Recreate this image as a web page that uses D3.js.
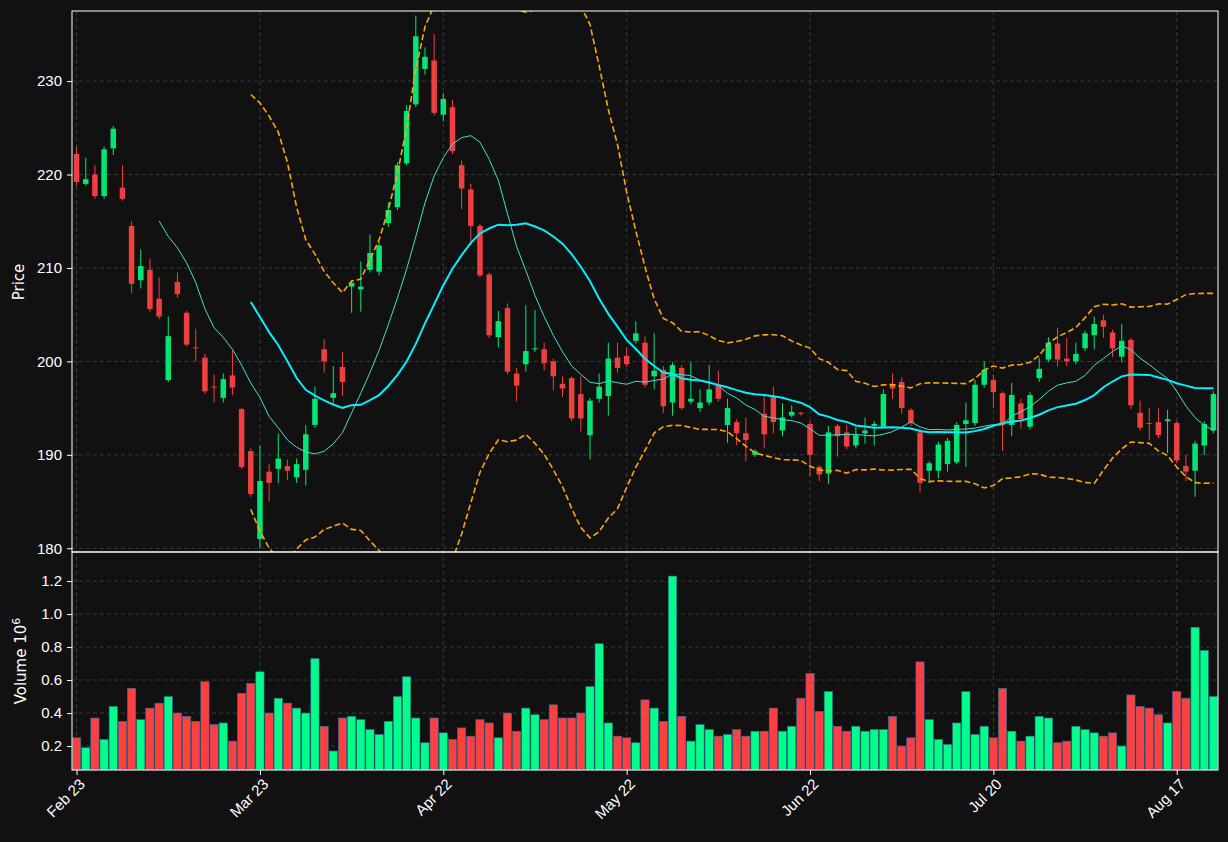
<!DOCTYPE html>
<html><head><meta charset="utf-8">
<script src="https://cdn.jsdelivr.net/npm/d3@7/dist/d3.min.js"></script>
<style>body{margin:0;background:#111111;}svg{display:block;font-family:"DejaVu Sans",sans-serif;}</style>
</head><body><svg id="c" width="1228" height="842"></svg>
<script>
const opens=[222.2,219,220,217.7,222.8,218.6,214.5,208.7,209.8,206.7,198,208.5,205.2,201.5,200.4,197.3,196.1,198.5,194.9,190.4,181,188.2,188.5,188.8,187.6,188.4,193.2,201.3,196.1,199.4,208,207.7,209.8,209.6,214.8,216.5,221.2,227.5,231.3,232.2,226.4,227.2,221,218.4,214.5,209.3,202.6,205.7,198.7,199.7,201.3,201.3,200,197.6,198.2,196.5,192.1,196,196.3,200.4,200.6,202.2,202,198.4,199.1,195.6,199.3,195.7,195,195.6,197.4,193.2,193.5,192.3,190,194.4,196.2,192.6,194.2,194.5,193.3,188.7,188,193.1,192.4,191,192.3,193.1,193,197.5,197.8,194.8,192.4,188.3,188.3,189,189.2,193.3,193.4,197.5,198,196.6,193.2,195.5,193,198.2,200.2,201.9,200.3,200,201.4,202.8,204.4,203.1,200.5,202.3,194.5,193.4,193.5,193.6,193.4,188.8,188.3,191,192.6];
const closes=[219.2,219.5,217.7,222.7,224.9,217.4,208.3,210.2,205.6,204.8,202.7,207.2,201.8,201.4,196.8,197.2,198.1,197.2,188.7,185.8,187.2,187,189.6,188.3,189,192.2,196,200,196.6,197.8,208.4,208,211.6,212.4,216.2,221,226.8,234.8,232.6,226.6,228.1,222.5,218.5,214.5,209.2,202.8,204.3,198.9,197.4,201.1,201.4,199.8,198.4,197.1,193.9,193.9,195.8,197.3,200.3,199.3,199.7,203,197.5,199,195.2,199.6,195,196,195.6,197,196,195,192.3,191.6,190.4,192.2,193.5,194,194.6,194.4,190,187.9,192.4,192,190.9,192.1,192.6,193.3,196.5,197.1,195,193.4,187,189.1,191.1,191.5,193.2,193.7,197.5,199.1,196.7,193.2,196.4,193.8,196.4,199.2,202,200.2,200,200.8,203,204,203.7,201.4,202.2,195.3,192.9,193.3,192.1,193.8,189.4,188.2,191.2,193.3,196.5];
const highs=[223,221.8,221,223,225.2,221,215,212,211,209,204.8,209.5,205.4,203.5,200.8,198.6,198.7,201.2,195,190.7,191,189,192.3,189.5,189.6,193.2,197.3,202.4,199.5,201,208.6,210.7,213.6,212.8,217,221.3,227.4,237,233.6,235,228.7,228,221.5,219,214.7,209.5,205.4,206.2,199.3,206,205.5,202,200.3,198.4,198.4,198.4,196.1,198.7,202,202,201.5,204.3,202.7,203,199.5,199.9,199.6,199.9,197,199.6,199,196,193.8,194,190.6,196.3,197.3,195.5,195.3,194.6,193.6,188.9,193.1,193.3,193.2,193,194,193.6,197,198.7,198.3,195,192.8,189.3,191.4,191.8,193.5,195.6,198,200,198.6,196.8,197.7,196,196.7,200.4,202.6,203.6,202.5,202,203.3,204.8,205,203.4,204,202.5,195.8,195,195,194.8,193.6,190,191.5,193.6,196.8];
const lows=[218.8,218.8,217.4,217.4,222.1,217.2,207.3,207.8,205.3,204.5,197.8,206.8,201.6,200,196.5,195.6,195.6,196.4,188.5,185.5,180,185,187,187.3,187,186.7,192.9,198.8,195.5,196.3,205.2,205.3,209.5,209.2,214.4,216.2,221,227.2,230.7,226.3,225.7,222.2,216.3,212.5,209,202.5,201.5,198.6,195.7,198.9,201,199,196.9,196.2,193.6,192.5,189.5,195.6,194.2,198.8,199.4,201.9,197.2,197,194.5,194.2,194.8,195.4,194.6,195.3,195.7,191.3,191,189.3,189.8,190.7,192.3,192,194,194.2,187.7,187.2,186.9,189.8,190.6,190.7,191.2,191,192.8,196,194.4,193.1,186,187,187.5,188.2,189,188.7,193.1,197.2,195,190.4,192,192.8,192.7,197.8,199.9,199.5,199.5,199.7,201.1,201.3,202.5,200.5,199.9,194.9,192.6,191.6,191.8,190.2,189.1,187.2,185.5,190,192.3];
const volumes=[.25,.19,.37,.24,.44,.35,.55,.36,.43,.46,.50,.40,.38,.35,.59,.33,.34,.23,.52,.58,.65,.40,.49,.46,.43,.40,.73,.32,.17,.37,.38,.36,.30,.27,.35,.50,.62,.37,.22,.37,.28,.24,.31,.26,.36,.34,.25,.40,.29,.43,.39,.36,.45,.37,.37,.40,.56,.82,.34,.26,.25,.22,.48,.43,.35,1.23,.38,.23,.33,.30,.26,.27,.30,.26,.29,.29,.43,.29,.32,.49,.64,.41,.53,.32,.29,.32,.29,.30,.30,.38,.20,.25,.71,.36,.24,.21,.34,.53,.27,.32,.25,.55,.29,.23,.26,.38,.37,.22,.23,.32,.30,.28,.26,.28,.20,.51,.44,.43,.39,.34,.53,.49,.92,.78,.50];
const dateTicks=[[0,"Feb 23"],[20,"Mar 23"],[40,"Apr 22"],[60,"May 22"],[80,"Jun 22"],[100,"Jul 20"],[120,"Aug 17"]];
const priceTicks=[180,190,200,210,220,230];
const volTicks=[0.2,0.4,0.6,0.8,1.0,1.2];

const n=closes.length, UP="#00e676", DN="#ef4040";
const svg=d3.select("#c");
const L=72,R=1218,PT=11,PB=552,VB=770;
const x=d3.scaleLinear().domain([-0.5,n-0.5]).range([L,R]);
const y=d3.scaleLinear().domain([179.6,237.5]).range([PB,PT]);
const yv=d3.scaleLinear().domain([0.055,1.376]).range([VB,PB]);
const bw=(x(1)-x(0));
svg.append("defs").append("clipPath").attr("id","pc").append("rect").attr("x",L).attr("y",PT).attr("width",R-L).attr("height",PB-PT);
const grid="#3a3a3a";
[[y,priceTicks],[yv,volTicks]].forEach(([s,t])=>svg.append("g").selectAll("line").data(t).join("line")
 .attr("x1",L).attr("x2",R).attr("y1",d=>s(d)).attr("y2",d=>s(d)).attr("stroke",grid).attr("stroke-dasharray","4,3"));
svg.append("g").selectAll("line").data(dateTicks).join("line").attr("x1",d=>x(d[0])).attr("x2",d=>x(d[0]))
 .attr("y1",PT).attr("y2",VB).attr("stroke",grid).attr("stroke-dasharray","4,3");
const isUp=i=>closes[i]>=opens[i];
const idx=d3.range(n);
const cg=svg.append("g").attr("clip-path","url(#pc)");
cg.selectAll("line.w").data(idx).join("line").attr("x1",i=>x(i)).attr("x2",i=>x(i))
 .attr("y1",i=>y(highs[i])).attr("y2",i=>y(lows[i])).attr("stroke",i=>isUp(i)?UP:DN).attr("stroke-width",1);
cg.selectAll("rect").data(idx).join("rect").attr("x",i=>x(i)-bw*0.3).attr("width",bw*0.6)
 .attr("y",i=>y(Math.max(opens[i],closes[i]))).attr("height",i=>Math.max(1,Math.abs(y(opens[i])-y(closes[i]))))
 .attr("fill",i=>isUp(i)?UP:DN);
function ma(p){return idx.map(i=>i<p-1?null:d3.mean(closes.slice(i-p+1,i+1)));}
function sd(p){return idx.map(i=>i<p-1?null:d3.deviation(closes.slice(i-p+1,i+1)));}
const ma10=ma(10),ma20=ma(20),sd20=sd(20);
const line=arr=>d3.line().defined(i=>arr[i]!=null).x(i=>x(i)).y(i=>y(arr[i]))(idx);
cg.append("path").attr("d",line(ma10)).attr("fill","none").attr("stroke","#40e0d0").attr("stroke-width",1);
cg.append("path").attr("d",line(ma20)).attr("fill","none").attr("stroke","#00f0ff").attr("stroke-width",2);
const up=idx.map(i=>ma20[i]==null?null:ma20[i]+2*sd20[i]), lo=idx.map(i=>ma20[i]==null?null:ma20[i]-2*sd20[i]);
[up,lo].forEach(a=>cg.append("path").attr("d",line(a)).attr("fill","none").attr("stroke","#ffa500").attr("stroke-width",1.6).attr("stroke-dasharray","6,3"));
svg.append("g").selectAll("rect").data(idx).join("rect").attr("x",i=>x(i)-bw*0.45).attr("width",bw*0.9)
 .attr("y",i=>yv(volumes[i])).attr("height",i=>VB-yv(volumes[i]))
 .attr("fill",i=>isUp(i)?"#00ff88":"#ff4040").attr("stroke","#3070a0").attr("stroke-width",0.6);
svg.append("rect").attr("x",L).attr("y",PT).attr("width",R-L).attr("height",PB-PT).attr("fill","none").attr("stroke","#fff");
svg.append("rect").attr("x",L).attr("y",PB).attr("width",R-L).attr("height",VB-PB).attr("fill","none").attr("stroke","#fff");
const ax=g=>{g.attr("font-size",null);g.selectAll("text").attr("fill","#fff").attr("font-size","15px");g.selectAll("line").attr("stroke","#fff");g.select(".domain").remove();};
svg.append("g").attr("transform",`translate(${L},0)`).call(d3.axisLeft(y).tickValues(priceTicks).tickSize(5).tickPadding(5)).call(ax);
svg.append("g").attr("transform",`translate(${L},0)`).call(d3.axisLeft(yv).tickValues(volTicks).tickFormat(d3.format(".1f")).tickSize(5).tickPadding(5)).call(ax);
const xa=svg.append("g").attr("transform",`translate(0,${VB})`).call(d3.axisBottom(x).tickValues(dateTicks.map(d=>d[0])).tickFormat(i=>dateTicks.find(d=>d[0]===i)[1]).tickSize(5)).call(ax);
xa.selectAll("text").attr("text-anchor","end").attr("dx","-0.3em").attr("dy","0.6em").attr("transform","rotate(-45)");
svg.append("text").attr("transform","translate(24,282) rotate(-90)").attr("text-anchor","middle").attr("fill","#fff").attr("font-size","15px").text("Price");
const vl=svg.append("text").attr("transform","translate(26,661) rotate(-90)").attr("text-anchor","middle").attr("fill","#fff").attr("font-size","15px");
vl.append("tspan").text("Volume  10");vl.append("tspan").attr("dy","-6").attr("font-size","11px").text("6");
</script></body></html>
